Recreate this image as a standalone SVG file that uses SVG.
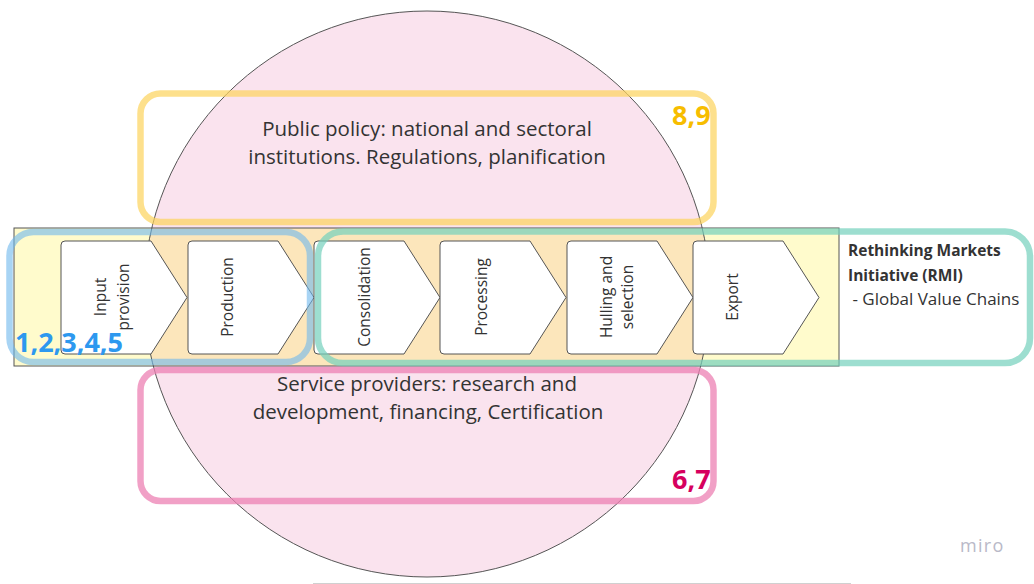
<svg xmlns="http://www.w3.org/2000/svg" width="1034" height="584" viewBox="0 0 1034 584">
  <defs>
    <style>
      .t { font-family: "Open Sans", "Noto Sans", "Liberation Sans", sans-serif; fill: #333333; }
      .step { font-size: 15.5px; text-anchor: middle; dominant-baseline: central; }
      .big { font-size: 20.5px; text-anchor: middle; }
      .rmi { font-size: 15.5px; }
      .tag { font-family: "Open Sans", "Noto Sans", "Liberation Sans", sans-serif; font-weight: 700; font-size: 27px; }
      .chev { fill: #ffffff; stroke: #555555; stroke-width: 1; stroke-linejoin: round; }
      .frame { fill: none; stroke-width: 6.5; }
    </style>
    <clipPath id="circleClip">
      <circle cx="427" cy="294" r="283"/>
    </clipPath>
    <!-- one value-chain step: rounded box with an arrow point -->
    <path id="chevron" d="M4,0 H90 L126,56.5 L90,113 H4 Q0,113 0,109 V4 Q0,0 4,0 Z"/>
  </defs>

  <rect width="1034" height="584" fill="#ffffff"/>

  <!-- background layers: circle and value-chain band -->
  <g id="background">
    <circle cx="427" cy="294" r="283" fill="#fae3ee"/>
    <rect x="14" y="228" width="825" height="138" fill="#fffbcc"/>
    <rect x="14" y="228" width="825" height="138" fill="#fce6bb" clip-path="url(#circleClip)"/>
    <rect x="14" y="228" width="825" height="138" fill="none" stroke="#555555" stroke-width="1"/>
    <circle cx="427" cy="294" r="283" fill="none" stroke="#555555" stroke-width="1"/>
  </g>

  <!-- value-chain steps -->
  <g id="step-input">
    <use href="#chevron" class="chev" x="61" y="241"/>
    <text class="t step" transform="translate(100,297) rotate(-90)">Input</text>
    <text class="t step" transform="translate(123,297) rotate(-90)">provision</text>
  </g>
  <g id="step-production">
    <use href="#chevron" class="chev" x="188" y="241"/>
    <text class="t step" transform="translate(227,297) rotate(-90)">Production</text>
  </g>
  <g id="step-consolidation">
    <use href="#chevron" class="chev" x="314" y="241"/>
    <text class="t step" transform="translate(364,297) rotate(-90)">Consolidation</text>
  </g>
  <g id="step-processing">
    <use href="#chevron" class="chev" x="440" y="241"/>
    <text class="t step" transform="translate(481,297) rotate(-90)">Processing</text>
  </g>
  <g id="step-hulling">
    <use href="#chevron" class="chev" x="567" y="241"/>
    <text class="t step" transform="translate(606,297) rotate(-90)">Hulling and</text>
    <text class="t step" transform="translate(627,297) rotate(-90)">selection</text>
  </g>
  <g id="step-export">
    <use href="#chevron" class="chev" x="693" y="241"/>
    <text class="t step" transform="translate(732,297) rotate(-90)">Export</text>
  </g>

  <!-- grouping frames -->
  <g id="frame-policy">
    <rect class="frame" x="140.5" y="93.5" width="573" height="128.5" rx="20" stroke="#fcd35b" stroke-opacity="0.7"/>
    <text class="t big" x="427" y="136">Public policy: national and sectoral</text>
    <text class="t big" x="427" y="164">institutions. Regulations, planification</text>
    <text class="tag" x="672" y="125" fill="#f7bd00">8,9</text>
  </g>
  <g id="frame-services">
    <rect class="frame" x="140.5" y="370" width="573" height="131" rx="20" stroke="#ec80b3" stroke-opacity="0.75"/>
    <text class="t big" x="427" y="391">Service providers: research and</text>
    <text class="t big" x="428" y="419">development, financing, Certification</text>
    <text class="tag" x="672" y="489" fill="#d6005e">6,7</text>
  </g>
  <g id="frame-producers">
    <rect class="frame" x="9.5" y="232" width="300.5" height="130" rx="24" stroke="#6eb7ed" stroke-opacity="0.6"/>
    <text class="tag" x="15" y="352" fill="#2d98ef">1,2,3,4,5</text>
  </g>
  <g id="frame-rmi">
    <rect class="frame" x="318" y="231.5" width="712" height="131.5" rx="25" stroke="#74d0bc" stroke-opacity="0.7"/>
    <text class="t rmi" x="848" y="256" font-weight="700">Rethinking Markets</text>
    <text class="t rmi" x="848" y="281" font-weight="700">Initiative (RMI)</text>
    <text class="t" x="848" y="305" font-size="17" xml:space="preserve"> - Global Value Chains</text>
  </g>

  <!-- watermark -->
  <text x="960" y="552" font-family="'Open Sans', 'Noto Sans', sans-serif" font-size="18" fill="#b9b9c8" letter-spacing="1.3">miro</text>

  <!-- edge of content below -->
  <line x1="313" y1="583.5" x2="851" y2="583.5" stroke="#d0d0d0" stroke-width="1"/>
</svg>
